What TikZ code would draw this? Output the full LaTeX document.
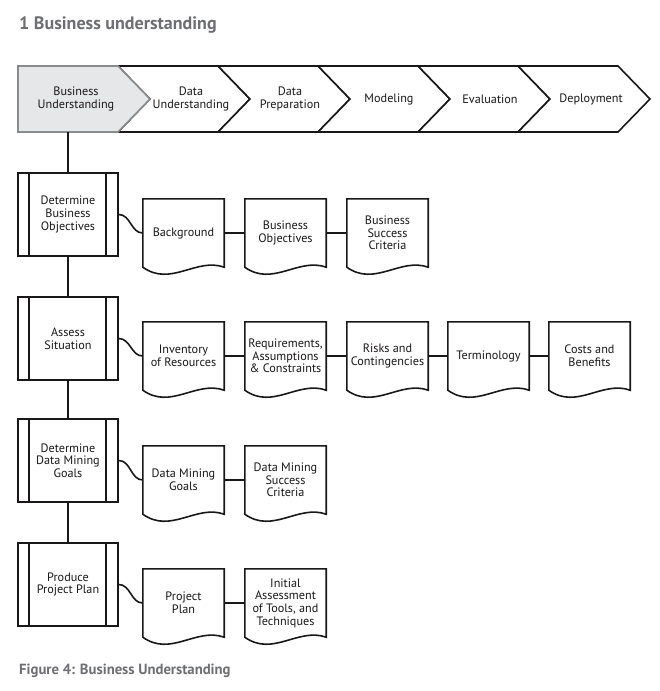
\documentclass[tikz,border=0pt]{standalone}
\usepackage{fontspec}
\setmainfont{PT Sans}
\usetikzlibrary{calc,backgrounds}

\definecolor{ink}{HTML}{1A1718}
\definecolor{headgray}{HTML}{6D6E71}
\definecolor{phasefill}{HTML}{E6E7E8}
\definecolor{phaseedge}{HTML}{8A8B8D}

\tikzset{
  every node/.style={font=\fontsize{12.2}{12.7}\selectfont, text=ink, align=center, inner sep=0pt},
  heading/.style={font=\fontsize{18}{20}\selectfont\bfseries, text=headgray, anchor=base west},
  chevron/.style={draw=ink, line width=1.6pt, fill=white},
  task/.style={draw=ink, line width=1.6pt, minimum width=100pt, minimum height=83pt},
  doc/.style={minimum width=81pt, minimum height=68pt},
  docline/.style={draw=ink, line width=1.6pt, fill=white},
  link/.style={draw=ink, line width=1.6pt}
}

\begin{document}
\begin{tikzpicture}[x=1pt,y=-1pt]
\useasboundingbox (0,0) rectangle (660,691);

\node[heading] (title) at (19,29) {1 Business understanding};

% phases
\foreach \x in {118,218,318,418,518}
  \draw[chevron] (\x,66) -- ++(100,0) -- ++(32,33) -- ++(-32,33) -- ++(-100,0) -- ++(32,-33) -- cycle;
\draw[chevron, draw=phaseedge, fill=phasefill] (18,66) -- (118,66) -- (150,99) -- (118,132) -- (18,132) -- cycle;

\node (bu) at (76,99) {Business\\Understanding};
\node (du) at (191,99) {Data\\Understanding};
\node (dp) at (290,99) {Data\\Preparation};
\node (mo) at (389,99) {Modeling};
\node (ev) at (490,99) {Evaluation};
\node (de) at (591,99) {Deployment};
\coordinate (bu-foot) at (68,132);

% tasks
\node[task] (t1) at (68,214.5) {Determine\\Business\\Objectives};
\node[task] (t2) at (68,338.5) {Assess\\Situation};
\node[task] (t3) at (68,460.5) {Determine\\Data Mining\\Goals};
\node[task] (t4) at (68,584.5) {Produce\\Project Plan};
\foreach \t in {t1,t2,t3,t4}{
  \draw[link] ([xshift=12pt]\t.north west) -- ([xshift=12pt]\t.south west);
  \draw[link] ([xshift=-13pt]\t.north east) -- ([xshift=-13pt]\t.south east);
}
\draw[link] (bu-foot) -- (t1.north);
\draw[link] (t1.south) -- (t2.north);
\draw[link] (t2.south) -- (t3.north);
\draw[link] (t3.south) -- (t4.north);

% outputs
\node[doc] (bg)  at (183.5,233) {Background};
\node[doc] (bo)  at (285.5,233) {Business\\Objectives};
\node[doc] (bsc) at (387.5,233) {Business\\Success\\Criteria};

\node[doc] (inv) at (183.5,356) {Inventory\\of Resources};
\node[doc] (req) at (285.5,356) {Requirements,\\Assumptions\\\& Constraints};
\node[doc] (rc)  at (387.5,356) {Risks and\\Contingencies};
\node[doc] (ter) at (488.5,356) {Terminology};
\node[doc] (cb)  at (589.5,356) {Costs and\\Benefits};

\node[doc] (dmg) at (183.5,480) {Data Mining\\Goals};
\node[doc] (dms) at (285.5,480) {Data Mining\\Success\\Criteria};

\node[doc] (pp)  at (183.5,603) {Project\\Plan};
\node[doc] (ia)  at (285.5,603) {Initial\\Assessment\\of Tools, and\\Techniques};

\begin{scope}[on background layer]
\foreach \d in {bg,bo,bsc,inv,req,rc,ter,cb,dmg,dms,pp,ia}
  \draw[docline] (\d.south west) -- (\d.north west) -- (\d.north east) -- (\d.south east)
    .. controls +(-28,-10) and +(28,20) .. (\d.south west) -- cycle;
\end{scope}

\draw[link] (t1.east) to[out=0,in=180] (bg.west);
\draw[link] (bg) -- (bo);
\draw[link] (bo) -- (bsc);

\draw[link] (t2.east) to[out=0,in=180] (inv.west);
\draw[link] (inv) -- (req);
\draw[link] (req) -- (rc);
\draw[link] (rc) -- (ter);
\draw[link] (ter) -- (cb);

\draw[link] (t3.east) to[out=0,in=180] (dmg.west);
\draw[link] (dmg) -- (dms);

\draw[link] (t4.east) to[out=0,in=180] (pp.west);
\draw[link] (pp) -- (ia);

\node[heading, font=\fontsize{14.7}{17}\selectfont\bfseries] (caption) at (19,674) {Figure 4: Business Understanding};
\end{tikzpicture}
\end{document}
